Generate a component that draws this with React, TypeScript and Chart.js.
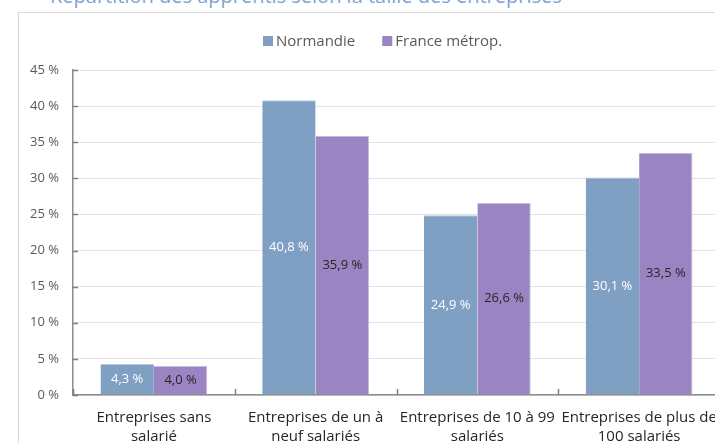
import React, { useEffect, useRef } from "react";
import { Chart, registerables } from "chart.js";

Chart.register(...registerables);

const title = "Répartition des apprentis selon la taille des entreprises";
const categories: string[][] = [
  ["Entreprises sans", "salarié"],
  ["Entreprises de un à", "neuf salariés"],
  ["Entreprises de 10 à 99", "salariés"],
  ["Entreprises de plus de", "100 salariés"],
];
const seriesNames = ["Normandie", "France métrop."];
const seriesColors = ["#7f9fc3", "#9b84c2"];
const normandie = [4.3, 40.8, 24.9, 30.1];
const france = [4.0, 35.9, 26.6, 33.5];
const yMax = 45;
const yStep = 5;

const FONT = "'Open Sans', sans-serif";
const fmt = (v: number) => v.toFixed(1).replace(".", ",") + " %";

const valueLabels = {
  id: "valueLabels",
  afterDatasetsDraw(chart: any) {
    const ctx = chart.ctx;
    ctx.save();
    ctx.font = `13px ${FONT}`;
    ctx.textAlign = "center";
    ctx.textBaseline = "middle";
    chart.data.datasets.forEach((ds: any, di: number) => {
      const meta = chart.getDatasetMeta(di);
      ctx.fillStyle = di === 0 ? "#ffffff" : "#262626";
      meta.data.forEach((bar: any, i: number) => {
        const y = (bar.y + bar.base) / 2;
        ctx.fillText(fmt(ds.data[i]), bar.x, y);
      });
    });
    ctx.restore();
  },
};

const innerTicks = {
  id: "innerTicks",
  afterDraw(chart: any) {
    const ctx = chart.ctx;
    const { left, right, bottom } = chart.chartArea;
    const ys = chart.scales.y;
    ctx.save();
    ctx.strokeStyle = "#7f7f7f";
    ctx.lineWidth = 1.5;
    ys.ticks.forEach((t: any) => {
      const py = Math.round(ys.getPixelForValue(t.value)) + 0.5;
      ctx.beginPath();
      ctx.moveTo(left, py);
      ctx.lineTo(left + 5, py);
      ctx.stroke();
    });
    const n = categories.length;
    for (let i = 0; i <= n; i++) {
      const px = Math.round(left + (i * (right - left)) / n) + 0.5;
      ctx.beginPath();
      ctx.moveTo(px, bottom - 6);
      ctx.lineTo(px, bottom);
      ctx.stroke();
    }
    ctx.restore();
  },
};

const customLegend = {
  id: "customLegend",
  afterDraw(chart: any) {
    const ctx = chart.ctx;
    ctx.save();
    ctx.font = `15px ${FONT}`;
    ctx.textBaseline = "middle";
    ctx.textAlign = "left";
    const box = 10;
    const gap = 3;
    const spacing = 27;
    const widths = chart.data.datasets.map((d: any) => ctx.measureText(d.label).width);
    const total =
      widths.reduce((a: number, w: number) => a + box + gap + w, 0) + spacing * (widths.length - 1);
    const centerX = 364;
    const midY = 28;
    let x = Math.round(centerX - total / 2);
    chart.data.datasets.forEach((d: any, i: number) => {
      ctx.fillStyle = d.backgroundColor;
      ctx.fillRect(x, midY - box / 2, box, box);
      ctx.fillStyle = "#595959";
      ctx.fillText(d.label, x + box + gap, midY + 1);
      x += box + gap + widths[i] + spacing;
    });
    ctx.restore();
  },
};

export default function App() {
  const ref = useRef<HTMLCanvasElement>(null);
  useEffect(() => {
    if (!ref.current) return;
    const chart = new Chart(ref.current, {
      type: "bar",
      data: {
        labels: categories,
        datasets: [
          {
            label: seriesNames[0],
            data: normandie,
            backgroundColor: seriesColors[0],
            borderColor: "#b7c8dc",
            borderWidth: { top: 1, right: 0, left: 0, bottom: 0 },
            categoryPercentage: 0.66,
            barPercentage: 1,
          },
          {
            label: seriesNames[1],
            data: france,
            backgroundColor: seriesColors[1],
            borderColor: "#c9bbe0",
            borderWidth: { top: 1, right: 1, left: 0, bottom: 0 },
            categoryPercentage: 0.66,
            barPercentage: 1,
          },
        ],
      },
      options: {
        responsive: false,
        animation: false,
        devicePixelRatio: 1,
        layout: { padding: { top: 57, right: 27, left: 0, bottom: 0 } },
        plugins: {
          legend: { display: false },
          tooltip: { enabled: false },
        },
        scales: {
          x: {
            grid: { display: true, drawOnChartArea: false, drawTicks: false },
            border: { color: "#8c8c8c", width: 1.5 },
            ticks: {
              color: "#262626",
              font: { family: FONT, size: 15, lineHeight: 1.27 },
              padding: 13,
              maxRotation: 0,
              autoSkip: false,
            },
            afterFit: (s: any) => {
              s.height = 58;
            },
          },
          y: {
            min: 0,
            max: yMax,
            grid: { color: "#e2e2e2", drawTicks: false },
            border: { color: "#8c8c8c", width: 1.5 },
            ticks: {
              stepSize: yStep,
              color: "#595959",
              font: { family: FONT, size: 13 },
              padding: 14,
              callback: (v: any) => v + " %",
            },
            afterFit: (s: any) => {
              s.width = 54;
            },
          },
        },
      },
      plugins: [valueLabels, innerTicks, customLegend],
    });
    return () => chart.destroy();
  }, []);

  return (
    <div
      style={{
        position: "fixed",
        left: 0,
        top: 0,
        width: 715,
        height: 443,
        overflow: "hidden",
        background: "#fff",
      }}
    >
      <div
        style={{
          position: "absolute",
          left: 50,
          top: -14,
          fontFamily: FONT,
          fontSize: 20,
          lineHeight: "20px",
          color: "#7ea3d3",
          whiteSpace: "nowrap",
        }}
      >
        {title}
      </div>
      <div
        style={{
          position: "absolute",
          left: 18,
          top: 12,
          width: 800,
          height: 470,
          borderLeft: "1px solid #d9d9d9",
          borderTop: "1px solid #d9d9d9",
        }}
      />
      <canvas
        ref={ref}
        width={728}
        height={440}
        style={{ position: "absolute", left: 19, top: 13 }}
      />
    </div>
  );
}
